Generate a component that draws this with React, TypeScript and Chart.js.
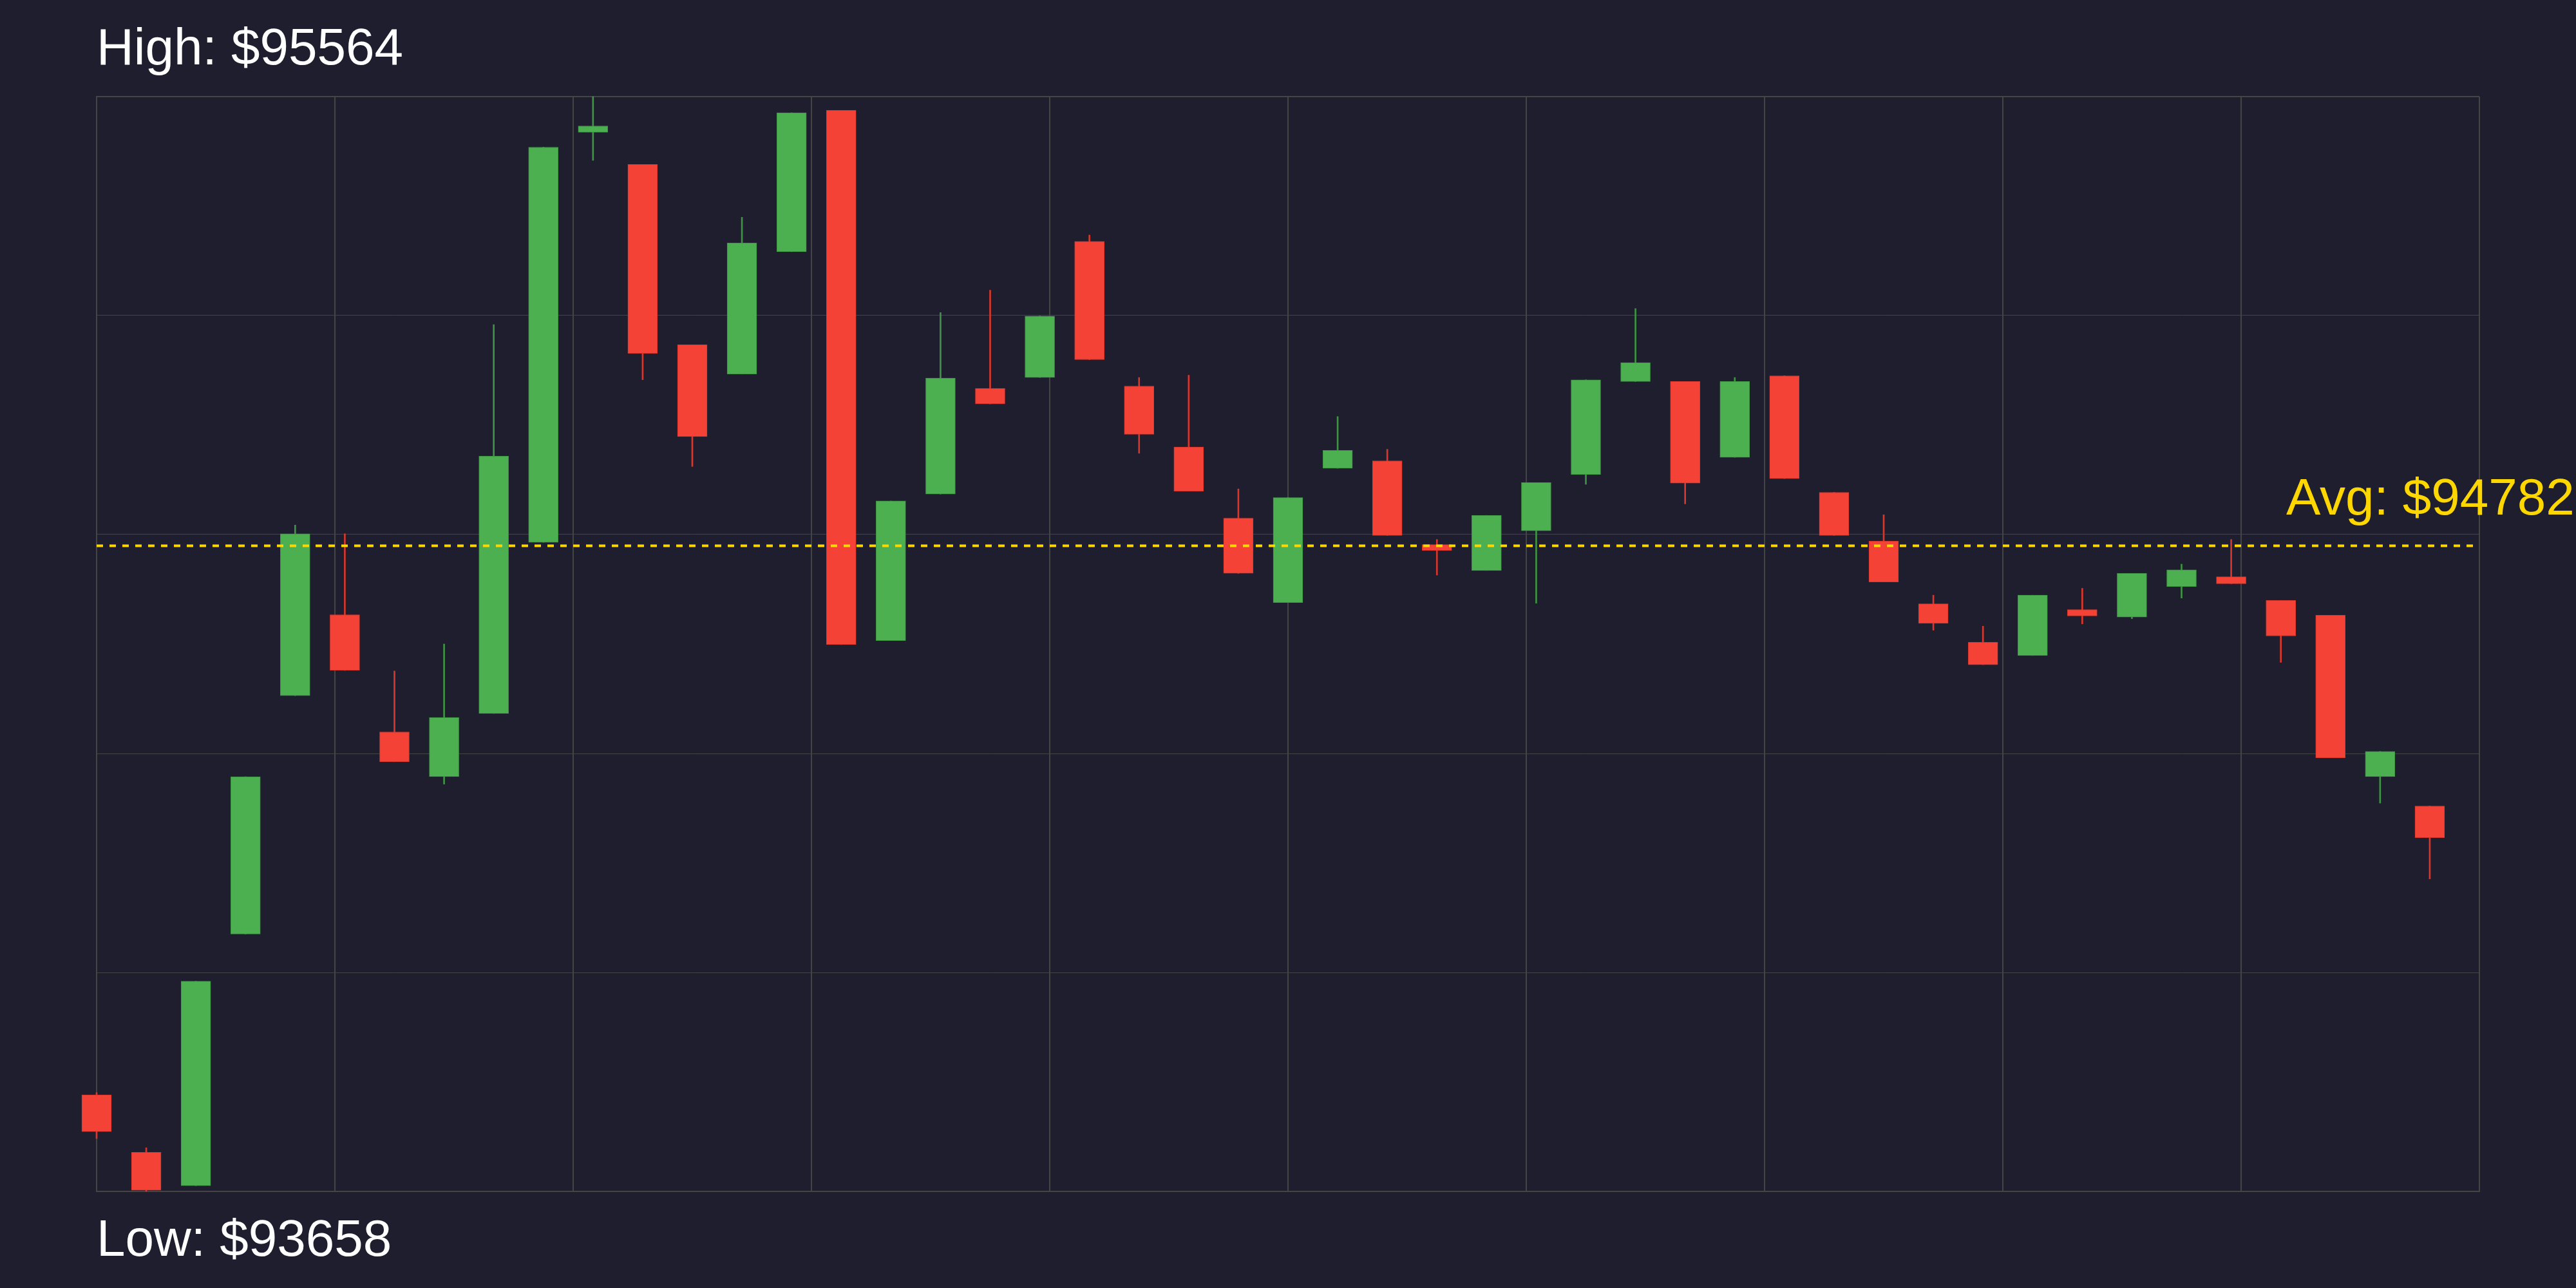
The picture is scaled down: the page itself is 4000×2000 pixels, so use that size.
import React, { useEffect, useRef } from "react";
import { Chart, registerables } from "chart.js";

Chart.register(...registerables);

const opens = [
  93826, 93726, 93668, 94106, 94521, 94662, 94458, 94380, 94490, 94788,
  95502, 95446, 95132, 95081, 95294, 95540, 94617, 94872, 95056, 95075,
  95312, 95060, 94954, 94830, 94683, 94917, 94930, 94784, 94739, 94808,
  94906, 95068, 95068, 94936, 95078, 94875, 94790, 94681, 94614, 94591,
  94671, 94658, 94711, 94728, 94687, 94661, 94380, 94329,
];
const highs = [
  93830, 93734, 94024, 94380, 94818, 94803, 94564, 94611, 95167, 95476,
  95564, 95446, 95132, 95354, 95536, 95540, 94860, 95188, 95227, 95182,
  95323, 95075, 95079, 94881, 94866, 95007, 94950, 94793, 94835, 94892,
  95071, 95195, 95068, 95075, 95078, 94875, 94836, 94696, 94642, 94696,
  94708, 94734, 94750, 94793, 94687, 94661, 94424, 94329,
];
const lows = [
  93750, 93658, 93668, 94106, 94521, 94565, 94406, 94367, 94490, 94788,
  95453, 95071, 94920, 95081, 95294, 94610, 94617, 94872, 95029, 95075,
  95106, 94943, 94877, 94734, 94683, 94917, 94800, 94731, 94739, 94682,
  94889, 95068, 94855, 94936, 94899, 94800, 94719, 94635, 94575, 94591,
  94646, 94655, 94691, 94716, 94579, 94413, 94334, 94202,
];
const closes = [
  93762, 93660, 94024, 94380, 94803, 94565, 94406, 94483, 94938, 95476,
  95513, 95117, 94972, 95309, 95536, 94610, 94860, 95074, 95029, 95182,
  95106, 94976, 94877, 94734, 94866, 94948, 94800, 94774, 94835, 94892,
  95071, 95101, 94891, 95068, 94899, 94800, 94719, 94647, 94575, 94696,
  94660, 94734, 94740, 94716, 94625, 94413, 94424, 94274,
];

const HIGH = 95564;
const LOW = 93658;
const AVG = 94782;

const UP = "#4CAF50";
const DOWN = "#F44336";
const UP_EDGE = "#3f9443";
const DOWN_EDGE = "#d9372c";
const BG = "#1e1e2e";
const GRID = "#444444";
const GOLD = "#FFD700";

export default function App() {
  const ref = useRef<HTMLCanvasElement | null>(null);

  useEffect(() => {
    document.body.style.margin = "0";
    document.body.style.background = BG;
    const canvas = ref.current;
    if (!canvas) return;

    const n = opens.length;
    const idx = opens.map((_, i) => i);
    const isUp = idx.map((i) => closes[i] >= opens[i]);

    const bodies = idx.map((i) => ({
      x: i,
      y: [Math.min(opens[i], closes[i]), Math.max(opens[i], closes[i])],
    }));
    const wicks = idx.map((i) => ({ x: i, y: [lows[i], highs[i]] }));

    const bgPlugin = {
      id: "bg",
      beforeDraw(chart: any) {
        const c = chart.ctx;
        c.save();
        c.fillStyle = BG;
        c.fillRect(0, 0, chart.width, chart.height);
        c.restore();
      },
    };

    const textPlugin = {
      id: "labels",
      afterDraw(chart: any) {
        const c = chart.ctx;
        const area = chart.chartArea;
        const yAvg = chart.scales.y.getPixelForValue(AVG);
        c.save();
        c.font = '80px "Liberation Sans", Arial, sans-serif';
        c.textBaseline = "alphabetic";
        c.textAlign = "left";
        c.fillStyle = "#ffffff";
        c.fillText(`High: $${HIGH}`, area.left, area.top - 50);
        c.fillText(`Low: $${LOW}`, area.left, area.bottom + 100);
        c.fillStyle = GOLD;
        c.fillText(`Avg: $${AVG}`, area.right - 300, yAvg - 48);
        c.restore();
      },
    };

    const xTicks = Array.from({ length: 11 }, (_, k) => (k * n) / 10);
    const yTicks = Array.from({ length: 6 }, (_, k) => LOW + (k * (HIGH - LOW)) / 5);

    const chart = new Chart(canvas, {
      type: "bar",
      data: {
        datasets: [
          {
            type: "line",
            data: [
              { x: 0, y: AVG },
              { x: n, y: AVG },
            ],
            borderColor: GOLD,
            borderWidth: 4,
            borderDash: [10, 10],
            pointRadius: 0,
            fill: false,
            order: 0,
          } as any,
          {
            data: bodies as any,
            backgroundColor: isUp.map((u) => (u ? UP : DOWN)),
            borderColor: isUp.map((u) => (u ? UP_EDGE : DOWN_EDGE)),
            borderWidth: 1,
            borderSkipped: false,
            barThickness: 46,
            grouped: false,
            clip: false,
            order: 1,
          } as any,
          {
            data: wicks as any,
            backgroundColor: isUp.map((u) => (u ? UP_EDGE : DOWN_EDGE)),
            borderWidth: 0,
            barThickness: 2,
            grouped: false,
            clip: false,
            order: 2,
          } as any,
        ],
      },
      options: {
        animation: false,
        responsive: false,
        maintainAspectRatio: false,
        devicePixelRatio: 1,
        layout: { padding: { left: 150, right: 150, top: 150, bottom: 150 } },
        plugins: {
          legend: { display: false },
          tooltip: { enabled: false },
          title: { display: false },
        },
        scales: {
          x: {
            type: "linear",
            min: 0,
            max: n,
            offset: false,
            afterBuildTicks: (axis: any) => {
              axis.ticks = xTicks.map((v) => ({ value: v }));
            },
            ticks: { display: false },
            grid: {
              color: GRID,
              lineWidth: 2,
              drawTicks: false,
              offset: false,
            },
            border: { display: true, color: GRID, width: 2 },
          },
          y: {
            type: "linear",
            min: LOW,
            max: HIGH,
            afterBuildTicks: (axis: any) => {
              axis.ticks = yTicks.map((v) => ({ value: v }));
            },
            ticks: { display: false },
            grid: {
              color: GRID,
              lineWidth: (ctx: any) =>
                ctx.index === 0 || ctx.index === yTicks.length - 1 ? 2 : 1,
              drawTicks: false,
            },
            border: { display: true, color: GRID, width: 2 },
          },
        },
      } as any,
      plugins: [bgPlugin, textPlugin],
    });

    return () => chart.destroy();
  }, []);

  return (
    <div style={{ width: 4000, height: 2000, background: BG }}>
      <canvas ref={ref} width={4000} height={2000} style={{ display: "block", width: 4000, height: 2000 }} />
    </div>
  );
}
